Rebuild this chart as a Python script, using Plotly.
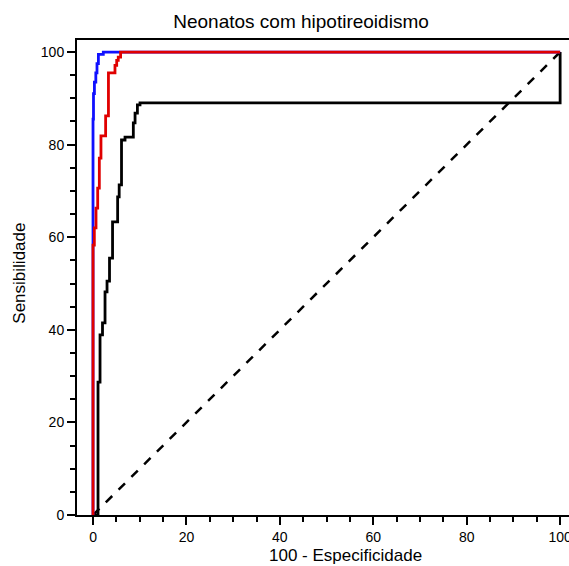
import plotly.graph_objects as go

# ROC curves: points for a "vh" staircase (vertical rise, then horizontal run)
blue_fpr = [0, 0.1, 0.3, 0.6, 0.85, 1.15, 2.2, 100]
blue_tpr = [0, 85.5, 91.0, 93.5, 95.5, 97.5, 99.5, 100]

red_fpr = [0, 0.28, 0.64, 1.0, 1.35, 1.7, 2.7, 3.3, 4.7, 5.07, 5.4, 5.9, 100]
red_tpr = [0, 58.3, 62.0, 66.3, 70.6, 77.1, 81.9, 86.2, 95.5, 97.1, 98.2, 98.9, 100]

black_fpr = [0, 1.07, 1.5, 2.03, 2.57, 3.0, 3.53, 4.18, 5.27, 5.6, 6.1, 6.85, 8.63, 9.0, 9.5, 10.06, 100, 100]
black_tpr = [0, 0, 28.7, 38.9, 41.5, 48.2, 50.5, 55.5, 63.3, 68.7, 71.3, 81.0, 81.6, 84.7, 86.8, 88.6, 89.0, 100]

diag = [0, 100]

title_text = "Neonatos com hipotireoidismo"
x_title = "100 - Especificidade"
y_title = "Sensibilidade"
tick_vals = [0, 20, 40, 60, 80, 100]

FONT = "Liberation Sans, Arial, Helvetica, sans-serif"

fig = go.Figure()
fig.add_trace(go.Scatter(x=diag, y=diag, mode="lines",
                         line=dict(color="black", width=2.5, dash="dash"),
                         showlegend=False, hoverinfo="skip"))
fig.add_trace(go.Scatter(x=black_fpr, y=black_tpr, mode="lines", line_shape="vh",
                         line=dict(color="black", width=2.8), showlegend=False))
fig.add_trace(go.Scatter(x=blue_fpr, y=blue_tpr, mode="lines", line_shape="vh",
                         line=dict(color="#1010ff", width=2.8), showlegend=False))
fig.add_trace(go.Scatter(x=red_fpr, y=red_tpr, mode="lines", line_shape="vh",
                         line=dict(color="#e00000", width=2.8), showlegend=False))

axis_common = dict(
    showgrid=False, zeroline=False, showline=True, linecolor="black", linewidth=2,
    ticks="outside", ticklen=8, tickwidth=2, tickcolor="black",
    tickvals=tick_vals, tickfont=dict(family=FONT, size=14, color="black"),
    ticklabeloverflow="allow", automargin=False,
    minor=dict(dtick=5, tick0=0, ticks="outside", ticklen=5, tickwidth=2, tickcolor="black"),
)

fig.update_xaxes(range=[-3.43, 101.9], mirror=True, **axis_common)
fig.update_yaxes(range=[0, 102.6], **axis_common)

fig.update_layout(
    width=569, height=566,
    margin=dict(l=77, r=0, t=40, b=51, autoexpand=False),
    plot_bgcolor="white", paper_bgcolor="white",
    font=dict(family=FONT, color="black"),
    title=dict(text=title_text, x=0.529, xanchor="center", y=0.963, yanchor="middle",
               font=dict(family=FONT, size=19, color="black")),
    annotations=[
        dict(text=x_title, xref="paper", yref="paper", x=0.545, y=-0.086,
             xanchor="center", yanchor="middle", showarrow=False,
             font=dict(family=FONT, size=17, color="black")),
        dict(text=y_title, xref="paper", yref="paper", x=-0.116, y=0.51,
             xanchor="center", yanchor="middle", showarrow=False, textangle=-90,
             font=dict(family=FONT, size=17, color="black")),
    ],
)

fig.write_html("out.html", config={"displayModeBar": False},
               post_script="document.body.style.margin='0px';document.body.style.overflow='hidden';")
